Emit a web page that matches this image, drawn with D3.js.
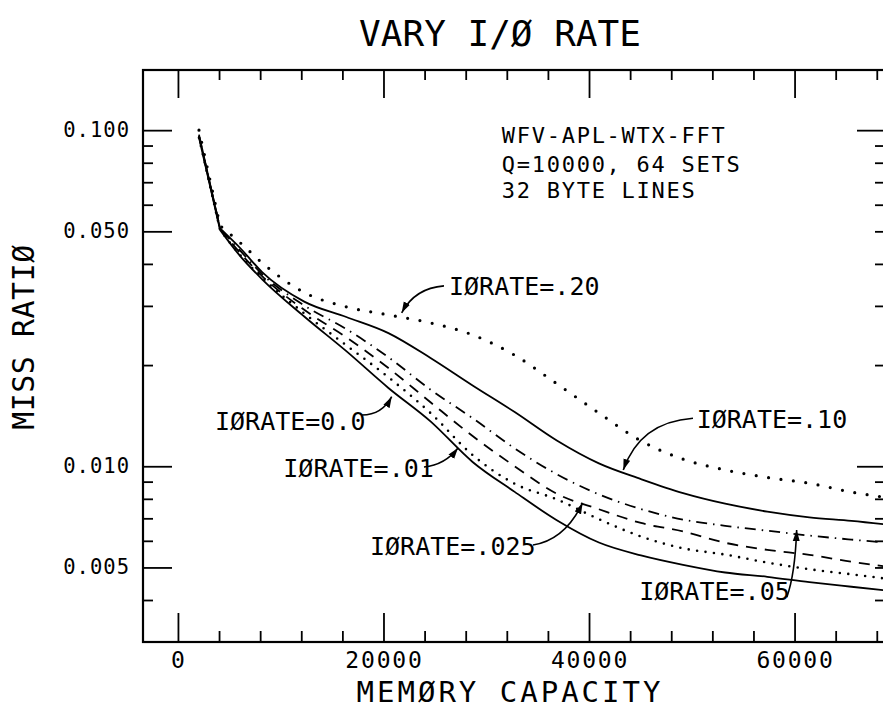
<!DOCTYPE html>
<html><head><meta charset="utf-8">
<script src="https://cdn.jsdelivr.net/npm/d3@7"></script>
<style>body{margin:0;background:#fff} svg{display:block}</style>
</head><body><svg id="c" width="883" height="710"></svg>
<script>
// ---------------- data ----------------
const memoryCapacity = [2048, 4096, 6144, 8192, 12288, 16384, 20480, 24576, 28672, 32768, 36864, 40960, 45056, 49152, 53248, 57344, 61440, 65536, 69632];
const ioRate000 = [0.095, 0.0505, 0.0419, 0.0360, 0.0279, 0.0220, 0.0171, 0.0136, 0.0103, 0.00839, 0.00691, 0.00593, 0.00543, 0.00509, 0.00483, 0.00469, 0.00452, 0.00438, 0.00425];
const ioRate010 = [0.095, 0.0505, 0.0422, 0.0364, 0.0285, 0.0229, 0.0184, 0.0144, 0.0108, 0.00887, 0.00797, 0.00696, 0.00618, 0.00570, 0.00546, 0.00517, 0.00494, 0.00477, 0.00460];
const ioRate025 = [0.096, 0.051, 0.0428, 0.0368, 0.0292, 0.0242, 0.0196, 0.0155, 0.0123, 0.0100, 0.00828, 0.00745, 0.00678, 0.00640, 0.00592, 0.00564, 0.00545, 0.00520, 0.00500];
const ioRate050 = [0.096, 0.051, 0.0435, 0.0373, 0.0301, 0.0256, 0.0211, 0.0169, 0.0139, 0.0113, 0.00947, 0.00825, 0.00746, 0.00694, 0.00665, 0.00643, 0.00622, 0.00605, 0.00590];
const ioRate100 = [0.097, 0.051, 0.0443, 0.0378, 0.0309, 0.0278, 0.0249, 0.0210, 0.0174, 0.0145, 0.01193, 0.0102, 0.00916, 0.00832, 0.00774, 0.00733, 0.00705, 0.00688, 0.00667];
const ioRate200 = [0.100, 0.052, 0.0460, 0.0403, 0.0329, 0.0298, 0.0282, 0.0267, 0.0246, 0.0214, 0.0176, 0.0144, 0.0119, 0.0105, 0.00975, 0.00926, 0.00890, 0.00838, 0.00802];

const xMajorTicks = [0, 20000, 40000, 60000];
const xTickLabels = ["0", "20000", "40000", "60000"];
const xMinorTicks = [4000, 8000, 12000, 16000, 24000, 28000, 32000, 36000, 44000, 48000, 52000, 56000, 64000, 68000];
const yMajorTicks = [0.1, 0.05, 0.01, 0.005];
const yTickLabels = ["0.100", "0.050", "0.010", "0.005"];
const yMinorTicks = [0.09, 0.08, 0.07, 0.06, 0.04, 0.03, 0.02, 0.009, 0.008, 0.007, 0.006, 0.004];
const yRightMajorTicks = [0.1, 0.01];
const yRightMinorTicks = [0.09, 0.08, 0.07, 0.06, 0.05, 0.04, 0.03, 0.02, 0.009, 0.008, 0.007, 0.006, 0.005, 0.004];

const infoLines = ["WFV-APL-WTX-FFT", "Q=10000, 64 SETS", "32 BYTE LINES"];
const infoX = 31500;
const infoY = [0.0913, 0.0752, 0.0627];

// annotation: label text, label anchor (data), arrow start / control / tip (data)
const annotations = [
  {text: "IØRATE=.20",  tx: 26374, ty: 0.0323,  x0: 25887, y0: 0.0344, cx: 23066, cy: 0.0339, x1: 21772, y1: 0.0286},
  {text: "IØRATE=0.0",  tx: 3606,  ty: 0.0128,  x0: 17909, y0: 0.0142, cx: 19855, cy: 0.0142, x1: 20799, y1: 0.0161},
  {text: "IØRATE=.01",  tx: 10251, ty: 0.00929, x0: 23941, y0: 0.00995, cx: 25985, cy: 0.01009, x1: 27250, y1: 0.01133},
  {text: "IØRATE=.025", tx: 18687, ty: 0.00544, x0: 34547, y0: 0.00583, cx: 37661, cy: 0.00604, x1: 39375, y1: 0.00778},
  {text: "IØRATE=.05",  tx: 44885, ty: 0.00400, x0: 59246, y0: 0.00408, cx: 60040, cy: 0.00475, x1: 60205, y1: 0.00646},
  {text: "IØRATE=.10",  tx: 50475, ty: 0.0130,  x0: 50115, y0: 0.0139, cx: 44958, cy: 0.01354, x1: 43333, y1: 0.00975}
];

const series = [
  {key: "0.0",  values: ioRate000, style: "solid"},
  {key: ".01",  values: ioRate010, style: "dotSmall"},
  {key: ".025", values: ioRate025, style: "dash"},
  {key: ".05",  values: ioRate050, style: "dashDot"},
  {key: ".10",  values: ioRate100, style: "solid"},
  {key: ".20",  values: ioRate200, style: "dotLarge"}
];
const lineStyles = {
  solid:    {width: 1.8, dash: null, cap: "butt"},
  dotSmall: {width: 2.6, dash: "0 8.5", cap: "round"},
  dash:     {width: 1.8, dash: "11 8", cap: "butt"},
  dashDot:  {width: 1.8, dash: "11 6 1.5 6", cap: "butt"},
  dotLarge: {width: 3.2, dash: "0 12.5", cap: "round"}
};

// ---------------- layout ----------------
const FONT = "'DejaVu Sans Mono', monospace";
const frame = {left: 143, right: 885, top: 70, bottom: 642};
const svg = d3.select("#c");
svg.append("rect").attr("width", 883).attr("height", 710).attr("fill", "#fff");

const x = d3.scaleLinear().domain([-3400, 68800]).range([frame.left, frame.right]);
const y = d3.scaleLog().domain([0.003, 0.151]).range([frame.bottom, frame.top]);

const defs = svg.append("defs");
defs.append("clipPath").attr("id", "clip")
  .append("rect").attr("x", frame.left).attr("y", frame.top)
  .attr("width", frame.right - frame.left).attr("height", frame.bottom - frame.top);

const marker = defs.append("marker").attr("id", "arrow")
  .attr("markerUnits", "userSpaceOnUse").attr("markerWidth", 12).attr("markerHeight", 8)
  .attr("refX", 11).attr("refY", 4).attr("orient", "auto");
marker.append("path").attr("d", "M0,0.5 L11,4 L0,7.5 Z").attr("fill", "#000");

// axes (ticks point inward)
function styleAxis(g) {
  g.select(".domain").remove();
  g.selectAll(".tick line").attr("stroke", "#000").attr("stroke-width", 1.8);
  g.selectAll(".tick text").remove();
}
const noFmt = () => "";
svg.append("g").attr("transform", `translate(0,${frame.bottom})`)
  .call(d3.axisTop(x).tickValues(xMajorTicks).tickSize(29).tickFormat(noFmt)).call(styleAxis);
svg.append("g").attr("transform", `translate(0,${frame.bottom})`)
  .call(d3.axisTop(x).tickValues(xMinorTicks).tickSize(11).tickFormat(noFmt)).call(styleAxis);
svg.append("g").attr("transform", `translate(0,${frame.top})`)
  .call(d3.axisBottom(x).tickValues(xMajorTicks).tickSize(28).tickFormat(noFmt)).call(styleAxis);
svg.append("g").attr("transform", `translate(0,${frame.top})`)
  .call(d3.axisBottom(x).tickValues(xMinorTicks).tickSize(10).tickFormat(noFmt)).call(styleAxis);
svg.append("g").attr("transform", `translate(${frame.left},0)`)
  .call(d3.axisRight(y).tickValues(yMajorTicks).tickSize(29).tickFormat(noFmt)).call(styleAxis);
svg.append("g").attr("transform", `translate(${frame.left},0)`)
  .call(d3.axisRight(y).tickValues(yMinorTicks).tickSize(10).tickFormat(noFmt)).call(styleAxis);
svg.append("g").attr("transform", `translate(${frame.right},0)`)
  .call(d3.axisLeft(y).tickValues(yRightMajorTicks).tickSize(28).tickFormat(noFmt)).call(styleAxis);
svg.append("g").attr("transform", `translate(${frame.right},0)`)
  .call(d3.axisLeft(y).tickValues(yRightMinorTicks).tickSize(10).tickFormat(noFmt)).call(styleAxis);

// frame
svg.append("rect").attr("x", frame.left).attr("y", frame.top)
  .attr("width", frame.right - frame.left).attr("height", frame.bottom - frame.top)
  .attr("fill", "none").attr("stroke", "#000").attr("stroke-width", 2.2);

// tick labels
svg.append("g").selectAll("text").data(xMajorTicks).join("text")
  .attr("x", d => x(d) + 1).attr("y", 668)
  .attr("text-anchor", "middle").attr("font-family", FONT).attr("font-size", 23)
  .style("letter-spacing", "1.8px")
  .text((d, i) => xTickLabels[i]);
svg.append("g").selectAll("text").data(yMajorTicks).join("text")
  .attr("x", 130).attr("y", d => y(d) + 7)
  .attr("text-anchor", "end").attr("font-family", FONT).attr("font-size", 20.5)
  .style("letter-spacing", "1px")
  .text((d, i) => yTickLabels[i]);

// titles
svg.append("text").attr("x", 500).attr("y", 46).attr("text-anchor", "middle")
  .attr("font-family", FONT).attr("font-size", 36).text("VARY I/Ø RATE");
svg.append("text").attr("x", 510).attr("y", 702).attr("text-anchor", "middle")
  .attr("font-family", FONT).attr("font-size", 29).style("letter-spacing", "3px").text("MEMØRY CAPACITY");
svg.append("text").attr("transform", "translate(34,337) rotate(-90)").attr("text-anchor", "middle")
  .attr("font-family", FONT).attr("font-size", 30).style("letter-spacing", "0.5px").text("MISS RATIØ");

// curves: straight first segment, smooth afterwards
const headLine = d3.line().x(d => x(d[0])).y(d => y(d[1]));
const tailLine = d3.line().x(d => x(d[0])).y(d => y(d[1])).curve(d3.curveMonotoneX);
const curveG = svg.append("g").attr("clip-path", "url(#clip)");
series.forEach(s => {
  const st = lineStyles[s.style];
  const pts = s.values.map((v, i) => [memoryCapacity[i], v]);
  const d = headLine(pts.slice(0, 2)) + tailLine(pts.slice(1)).replace(/^M[^A-Za-z]*/, "");
  curveG.append("path").attr("d", d)
    .attr("fill", "none").attr("stroke", "#000")
    .attr("stroke-width", st.width).attr("stroke-linecap", st.cap)
    .attr("stroke-linejoin", "round")
    .attr("stroke-dasharray", st.dash);
});

// info block
svg.append("g").selectAll("text").data(infoLines).join("text")
  .attr("x", x(infoX)).attr("y", (d, i) => y(infoY[i]))
  .attr("font-family", FONT).attr("font-size", 22).style("letter-spacing", "1.75px")
  .text(d => d);

// annotations
const annG = svg.append("g");
annotations.forEach(a => {
  annG.append("text").attr("x", x(a.tx)).attr("y", y(a.ty))
    .attr("font-family", FONT).attr("font-size", 25).text(a.text);
  annG.append("path")
    .attr("d", `M${x(a.x0)},${y(a.y0)} Q${x(a.cx)},${y(a.cy)} ${x(a.x1)},${y(a.y1)}`)
    .attr("fill", "none").attr("stroke", "#000").attr("stroke-width", 1.6)
    .attr("marker-end", "url(#arrow)");
});
</script></body></html>
